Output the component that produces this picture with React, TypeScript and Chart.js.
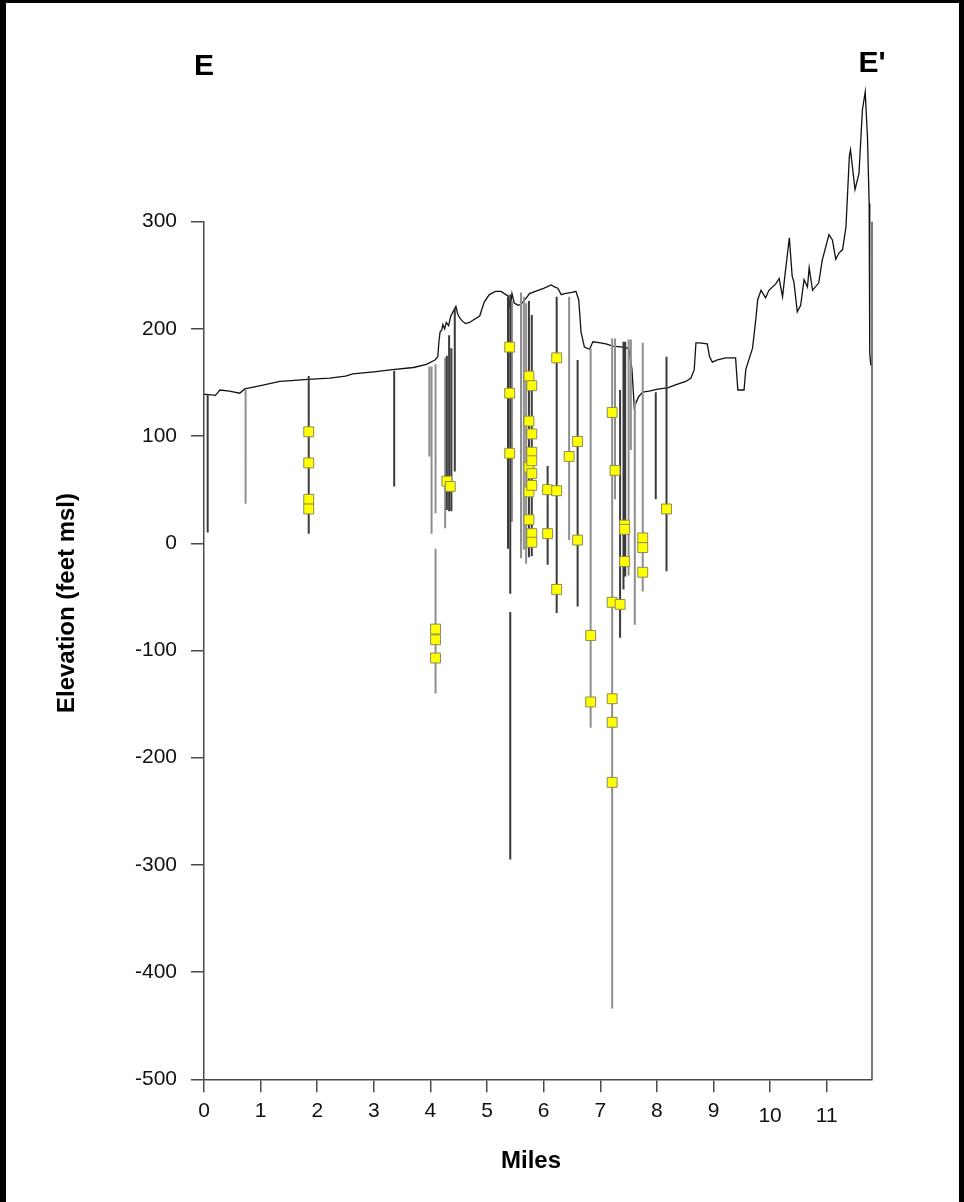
import React, { useEffect, useRef } from 'react';
import { Chart, registerables } from 'chart.js';

Chart.register(...registerables);

// ---- Data (miles along section, elevation in feet msl) ----
const sectionStart = 'E';
const sectionEnd = "E'";
const xTitle = 'Miles';
const yTitle = 'Elevation (feet msl)';

const xTicks = [0, 1, 2, 3, 4, 5, 6, 7, 8, 9, 10, 11];
const yTicks = [-500, -400, -300, -200, -100, 0, 100, 200, 300];

const profileMiles = [
  0, 0.05, 0.2, 0.25, 0.28, 0.45, 0.63, 0.72, 1.0, 1.34,
  1.6, 1.83, 2.22, 2.5, 2.63, 3.0, 3.33, 3.7, 3.93, 4.08,
  4.13, 4.15, 4.17, 4.2, 4.22, 4.25, 4.28, 4.32, 4.36, 4.42,
  4.45, 4.48, 4.52, 4.57, 4.62, 4.69, 4.75, 4.87, 4.95, 5.04,
  5.15, 5.25, 5.33, 5.37, 5.41, 5.44, 5.48, 5.55, 5.6, 5.68,
  5.75, 5.9, 6.01, 6.13, 6.2, 6.25, 6.31, 6.37, 6.5, 6.57,
  6.62, 6.66, 6.72, 6.81, 6.87, 7.0, 7.1, 7.22, 7.4, 7.48,
  7.51, 7.56, 7.6, 7.63, 7.68, 7.75, 7.86, 8.04, 8.19, 8.34,
  8.51, 8.6, 8.66, 8.69, 8.75, 8.89, 8.93, 8.98, 9.07, 9.22,
  9.39, 9.43, 9.54, 9.57, 9.69, 9.75, 9.78, 9.84, 9.92, 9.98,
  10.1, 10.16, 10.22, 10.26, 10.34, 10.39, 10.42, 10.48, 10.54, 10.6,
  10.66, 10.69, 10.75, 10.86, 10.92, 11.04, 11.1, 11.16, 11.22, 11.28,
  11.34, 11.4, 11.42, 11.5, 11.57, 11.63, 11.68, 11.72, 11.75, 11.76,
  11.78,
];
const profileElev = [
  139, 139, 138, 141, 143, 142, 140, 144, 147, 151,
  152, 153, 154, 156, 158, 160, 162, 164, 167, 171,
  174, 188, 197, 199, 204, 200, 206, 203, 212, 218,
  221, 214, 210, 207, 205, 206, 208, 212, 225, 232,
  235, 235, 232, 231, 220, 233, 224, 222, 223, 228,
  233, 236, 238, 241, 239, 238, 232, 233, 234, 235,
  227, 197, 183, 181, 188, 187, 186, 184, 183, 182,
  180, 162, 127, 131, 137, 141, 142, 144, 145, 148,
  151, 154, 162, 187, 187, 186, 174, 169, 171, 173,
  173, 143, 143, 162, 182, 210, 227, 236, 229, 236,
  242, 247, 230, 249, 285, 249, 244, 216, 222, 246,
  239, 257, 236, 243, 264, 288, 283, 265, 271, 274,
  295, 361, 367, 330, 345, 404, 421, 379, 317, 177,
  166,
];

// Boreholes: position, top and bottom elevation, tone (d = dark, g = gray)
const wellMiles = [
  0.065, 0.735, 1.85, 3.36, 3.98, 4.02, 4.09, 4.09, 4.26, 4.29,
  4.33, 4.37, 4.43, 5.37, 5.41, 5.41, 5.44, 5.6, 5.65, 5.69,
  5.74, 5.79, 6.07, 6.23, 6.45, 6.6, 6.83, 7.21, 7.26, 7.35,
  7.41, 7.44, 7.5, 7.54, 7.61, 7.75, 7.98, 8.17,
];
const wellTop = [
  139, 143, 156, 161, 165, 165, 167, -5, 173, 175,
  194, 182, 219, 230, 232, -64, 226, 234, 230, 224,
  226, 213, 72, 230, 230, 171, 182, 191, 191, 143,
  188, 188, 190, 190, 133, 187, 141, 174,
];
const wellBottom = [
  10, 37, 9, 53, 81, 9, 28, -140, 14, 31,
  30, 30, 67, -5, -47, -295, 20, -14, -6, -19,
  -13, -12, -20, -65, 3, -59, -172, -434, 41, -88,
  -43, -31, -30, 87, -76, -45, 41, -26,
];
const wellTone = [
  'd', 'g', 'd', 'd', 'g', 'g', 'g', 'g', 'g', 'd',
  'd', 'd', 'd', 'd', 'd', 'd', 'g', 'g', 'g', 'g',
  'd', 'd', 'd', 'd', 'g', 'd', 'g', 'g', 'g', 'd',
  'd', 'd', 'g', 'g', 'g', 'g', 'd', 'd',
];

// Yellow sample markers
const markerMiles = [
  1.85, 1.85, 1.85, 1.85,
  4.29, 4.35,
  4.09, 4.09, 4.09,
  5.4, 5.4, 5.4,
  5.74, 5.74, 5.74, 5.74, 5.74,
  5.79, 5.79, 5.79, 5.79, 5.79, 5.79, 5.79, 5.79,
  6.07, 6.07,
  6.23, 6.23, 6.23,
  6.45,
  6.6, 6.6,
  6.83, 6.83,
  7.21, 7.21, 7.21, 7.21, 7.21,
  7.26,
  7.35,
  7.43, 7.43, 7.43,
  7.75, 7.75, 7.75,
  8.17,
];
const markerElev = [
  104, 75, 41, 32,
  58, 53,
  -80, -90, -107,
  183, 140, 84,
  156, 114, 71, 48, 22,
  147, 102, 85, 77, 65, 54, 9, 1,
  50, 9,
  173, 49, -43,
  81,
  95, 3,
  -86, -148,
  122, -55, -145, -167, -223,
  68,
  -57,
  17, 13, -17,
  5, -4, -27,
  32,
];

const FONT = "'Liberation Sans', Arial, Helvetica, sans-serif";
const AXIS = '#4a4a4a';

function wellSegments(tone: string) {
  const pts: { x: number; y: number | null }[] = [];
  wellMiles.forEach((m, i) => {
    if (wellTone[i] !== tone) return;
    pts.push({ x: m, y: wellTop[i] });
    pts.push({ x: m, y: wellBottom[i] });
    pts.push({ x: m, y: null });
  });
  return pts;
}

const decorations = {
  id: 'decorations',
  afterDraw(chart: any) {
    const { ctx, chartArea, scales } = chart;
    const xs = scales.x;
    ctx.save();
    // right frame line
    ctx.strokeStyle = AXIS;
    ctx.lineWidth = 1.5;
    ctx.beginPath();
    ctx.moveTo(chartArea.right, chartArea.top);
    ctx.lineTo(chartArea.right, chartArea.bottom);
    ctx.stroke();
    // section end labels
    ctx.fillStyle = '#000';
    ctx.textAlign = 'center';
    ctx.textBaseline = 'middle';
    ctx.font = `bold 30px ${FONT}`;
    ctx.fillText(sectionStart, xs.getPixelForValue(xs.min), 64);
    ctx.fillText(sectionEnd, xs.getPixelForValue(xs.max), 61);
    // axis titles
    ctx.font = `bold 24px ${FONT}`;
    ctx.fillText(xTitle, 525, 1158);
    ctx.translate(61, 600);
    ctx.rotate(-Math.PI / 2);
    ctx.fillText(yTitle, 0, 0);
    ctx.restore();
  },
};

export default function App() {
  const ref = useRef<HTMLCanvasElement>(null);

  useEffect(() => {
    const canvas = ref.current;
    if (!canvas) return;
    const chart = new Chart(canvas, {
      type: 'line',
      data: {
        datasets: [
          {
            label: 'Samples',
            data: markerMiles.map((m, i) => ({ x: m, y: markerElev[i] })),
            showLine: false,
            pointStyle: 'rect',
            pointRadius: 7,
            pointHoverRadius: 7,
            pointBackgroundColor: '#ffff00',
            pointBorderColor: '#8c8c5a',
            pointBorderWidth: 1,
            order: 0,
            clip: false,
          } as any,
          {
            label: 'Wells (dark)',
            data: wellSegments('d'),
            borderColor: '#3a3a3a',
            borderWidth: 2,
            pointRadius: 0,
            spanGaps: false,
            order: 1,
            clip: false,
          } as any,
          {
            label: 'Wells (gray)',
            data: wellSegments('g'),
            borderColor: '#8e8e8e',
            borderWidth: 2,
            pointRadius: 0,
            spanGaps: false,
            order: 2,
            clip: false,
          } as any,
          {
            label: 'Ground surface',
            data: profileMiles.map((m, i) => ({ x: m, y: profileElev[i] })),
            borderColor: '#111111',
            borderWidth: 1.3,
            pointRadius: 0,
            tension: 0,
            order: 3,
            clip: false,
          } as any,
        ],
      },
      options: {
        responsive: false,
        animation: false,
        devicePixelRatio: 1,
        layout: { padding: { top: 218.7, right: 87, left: 0, bottom: 0 } },
        plugins: {
          legend: { display: false },
          tooltip: { enabled: false },
          title: { display: false },
        },
        scales: {
          x: {
            type: 'linear',
            min: 0,
            max: 11.8,
            afterBuildTicks: (s: any) => {
              s.ticks = xTicks.map((v) => ({ value: v }));
            },
            afterFit: (s: any) => {
              s.height = 122.7;
            },
            grid: { drawOnChartArea: false, drawTicks: true, tickLength: 13, color: AXIS, lineWidth: 1.5 },
            border: { display: true, color: AXIS, width: 1.5 },
            ticks: {
              padding: 7,
              color: '#111',
              autoSkip: false,
              maxRotation: 0,
              callback: (v: any) => String(v),
              font: (c: any) => ({
                family: FONT,
                size: 21,
                lineHeight: c.tick && c.tick.value >= 10 ? '34px' : '24px',
              }),
            },
          },
          y: {
            type: 'linear',
            min: -500,
            max: 300,
            afterBuildTicks: (s: any) => {
              s.ticks = yTicks.map((v) => ({ value: v }));
            },
            afterFit: (s: any) => {
              s.width = 198;
            },
            grid: { drawOnChartArea: false, drawTicks: true, tickLength: 13, color: AXIS, lineWidth: 1.5 },
            border: { display: true, color: AXIS, width: 1.5 },
            ticks: {
              padding: 14,
              color: '#111',
              callback: (v: any) => String(v),
              font: { family: FONT, size: 21 },
            },
          },
        },
      } as any,
      plugins: [decorations],
    });
    return () => chart.destroy();
  }, []);

  return (
    <div style={{ position: 'absolute', left: 0, top: 0, width: 964, height: 1202, background: '#000', overflow: 'hidden' }}>
      <div style={{ position: 'absolute', left: 6, top: 3, width: 953, height: 1199, background: '#fff' }}>
        <canvas ref={ref} width={953} height={1199} style={{ display: 'block', width: 953, height: 1199 }} />
      </div>
    </div>
  );
}
